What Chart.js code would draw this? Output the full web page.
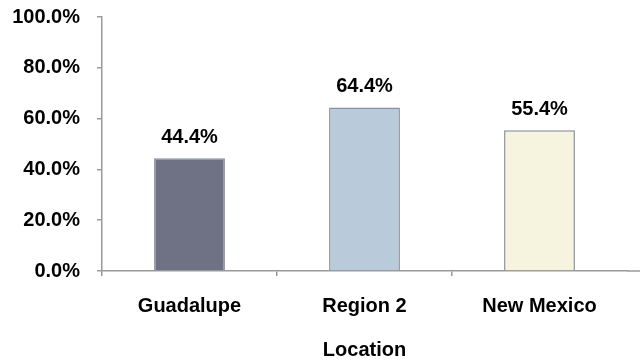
<!DOCTYPE html>
<html>
<head>
<meta charset="utf-8">
<script src="https://cdn.jsdelivr.net/npm/chart.js@4"></script>
<style>
  html, body { margin: 0; padding: 0; background: #fff; overflow: hidden; }
  #wrap { width: 640px; height: 362px; position: relative; }
</style>
</head>
<body>
<div id="wrap"><canvas id="bar_chart"></canvas></div>
<script>
// chart values
const locations = ["Guadalupe", "Region 2", "New Mexico"];
const rates = [44.4, 64.4, 55.4];
const barColors = ["#6f7184", "#b9cbdb", "#f6f3df"];
const yTicks = [0, 20, 40, 60, 80, 100];

const labelFont = { family: "'Liberation Sans', Arial, sans-serif", size: 20, weight: "bold" };

// draws the value above each bar
const valueLabels = {
    id: "valueLabels",
    afterDatasetsDraw(chart) {
        let c = chart.ctx;
        let meta = chart.getDatasetMeta(0);
        c.save();
        c.font = "bold 20px 'Liberation Sans', Arial, sans-serif";
        c.fillStyle = "#000";
        c.textAlign = "center";
        c.textBaseline = "middle";
        meta.data.forEach((bar, i) => {
            c.fillText(rates[i].toFixed(1) + "%", bar.x, bar.y - 21);
        });
        c.restore();
    }
};

// x axis line runs on to the right edge
const axisRun = {
    id: "axisRun",
    afterDraw(chart) {
        let c = chart.ctx;
        let a = chart.chartArea;
        c.save();
        c.strokeStyle = "#9a9a9a";
        c.lineWidth = 1.5;
        c.beginPath();
        c.moveTo(a.right, a.bottom);
        c.lineTo(chart.width, a.bottom);
        c.stroke();
        c.restore();
    }
};

let can = document.getElementById("bar_chart");
let c = can.getContext("2d");
let chart = new Chart(c, {
    type: "bar",
    data: {
        labels: locations,
        datasets: [{
            label: "Location",
            data: rates,
            backgroundColor: barColors,
            borderColor: "#8b8fa0",
            borderWidth: 1.5,
            barPercentage: 0.405,
            categoryPercentage: 1
        }]
    },
    options: {
        responsive: true,
        maintainAspectRatio: false,
        animation: false,
        layout: { padding: { top: 17, right: 13, left: 0, bottom: 0 } },
        plugins: {
            legend: { display: false },
            tooltip: { enabled: false }
        },
        scales: {
            x: {
                grid: {
                    display: true, drawOnChartArea: false, offset: true, tickLength: 5, lineWidth: 1.5,
                    color: ctx => ctx.tick ? "#9a9a9a" : "rgba(0,0,0,0)"
                },
                border: { color: "#9a9a9a", width: 1.5 },
                ticks: { color: "#000", font: labelFont, padding: 18, maxRotation: 0 },
                title: { display: true, text: "Location", color: "#000", font: labelFont, padding: { top: 4, bottom: 0 } },
                afterFit(scale) { scale.height = 91; }
            },
            y: {
                min: 0,
                max: 100,
                afterBuildTicks(scale) { scale.ticks = yTicks.map(v => ({ value: v })); },
                grid: { display: true, drawOnChartArea: false, tickLength: 5, color: "#9a9a9a", lineWidth: 1.5 },
                border: { color: "#9a9a9a", width: 1.5 },
                ticks: {
                    color: "#000",
                    font: labelFont,
                    padding: 17,
                    callback: v => v.toFixed(1) + "%"
                },
                afterFit(scale) {
                    scale.width = 102;
                    scale.paddingTop = 0;
                    scale.paddingBottom = 0;
                }
            }
        }
    },
    plugins: [valueLabels, axisRun]
});
</script>
</body>
</html>
